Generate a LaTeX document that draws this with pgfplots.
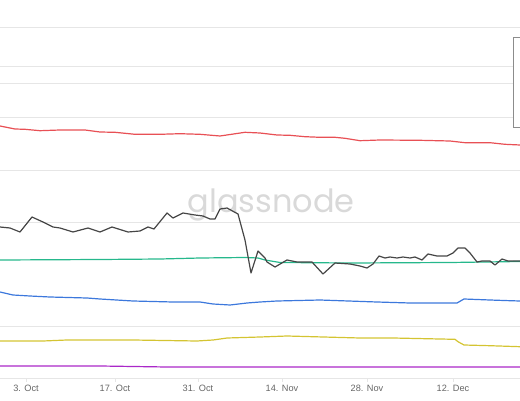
\documentclass[border=0pt]{standalone}
\usepackage{pgfplots}
\pgfplotsset{compat=1.18}
\usepackage{fontspec}
\setmainfont{Liberation Sans}
\newfontfamily\wmfont{Poppins}
\definecolor{cred}{RGB}{232,80,85}
\definecolor{cgreen}{RGB}{38,184,140}
\definecolor{cblue}{RGB}{60,120,220}
\definecolor{cyellow}{RGB}{212,196,50}
\definecolor{cpurple}{RGB}{170,40,200}
\definecolor{cblack}{RGB}{70,70,70}
\definecolor{gridc}{RGB}{230,230,230}
\definecolor{ticklab}{RGB}{102,102,102}
\begin{document}
\begin{tikzpicture}
\begin{axis}[
  at={(0,0)}, anchor=south west,
  scale only axis, width=520pt, height=378pt,
  xmin=0, xmax=520, ymin=0, ymax=378,
  axis line style={draw=none},
  xtick={26,115,198,282,367,453},
  xticklabels={3. Oct,17. Oct,31. Oct,14. Nov,28. Nov,12. Dec},
  x tick label style={font=\fontsize{9.2}{10}\selectfont, text=ticklab, yshift=0pt},
  xtick pos=bottom, tick align=outside,
  major tick length=4pt,
  x tick style={draw=gridc, line width=0.8pt},
  ytick={0,52,156,208,261,312,351},
  yticklabels={},
  y tick style={draw=none},
  ymajorgrids,
  major grid style={draw=gridc, line width=0.8pt},
  extra y ticks={295},
  extra y tick labels={},
  extra y tick style={grid style={draw=black!15, line width=1.5pt}, draw=none},
  every axis plot/.append style={line width=1.2pt, line join=round},
  clip=true,
]
\node[font=\wmfont\fontsize{32}{32}\selectfont, text=black!15] at (axis cs:271,173) {glassnode};
\addplot[cred] coordinates {(0,252)(15,249)(25,248.7)(40,247.3)(60,248)(85,248)(100,246)(115,245.7)(135,243.7)(160,243.7)(180,244.3)(200,243.7)(220,242)(245,245.7)(260,245)(277,243)(290,242.7)(305,241.3)(320,240.7)(335,240.7)(345,239.7)(360,237.3)(380,238)(420,237.7)(450,237)(465,235.3)(490,235.3)(505,233.7)(520,233)};
\addplot[cgreen] coordinates {(0,118)(100,118.5)(160,119)(200,120)(245,120.5)(258,120)(265,118)(280,115.5)(350,115)(450,115.5)(520,116.5)};
\addplot[cblack] coordinates {(0,151)(10,150)(20,146)(32,161)(43,156)(53,151)(60,150)(73,146)(88,150)(100,146)(112,151)(128,146)(140,147)(148,151)(154,149)(167,165)(173,160)(183,165)(195,163)(203,162)(210,159)(215,159)(220,169)(227,170)(238,164)(245,138)(251,105)(258,127)(265,120)(267,116)(275,111)(287,118)(297,116)(312,116)(323,104)(335,115)(350,114)(360,112)(367,110)(373,114)(379,122)(385,120)(390,121)(397,120)(403,121)(410,120)(415,121)(422,118)(428,124)(437,122)(447,122)(453,125)(458,130)(465,130)(470,125)(477,116)(482,117)(490,117)(495,113)(502,119)(508,117)(520,117)};
\addplot[cblue] coordinates {(0,86)(13,83)(30,82)(50,81)(87,80)(100,79)(133,77)(173,76)(200,76)(213,74)(230,73)(247,75)(260,76)(277,77)(320,78)(377,76)(410,75)(433,75)(457,75)(464,79)(490,78)(510,77.3)(520,77)};
\addplot[cyellow] coordinates {(0,37)(43,37)(67,38)(133,38)(197,37)(213,38)(227,40)(260,41)(287,42)(360,40)(393,40)(440,39)(455,38.7)(458,36.3)(464,33)(490,32.3)(520,31.3)};
\addplot[cpurple] coordinates {(0,12)(100,12)(167,11)(260,11)(393,11)(520,11)};
\draw[draw=black!45, line width=0.8pt, fill=white] (axis cs:513,341) rectangle (axis cs:540,251);
\end{axis}
\pgfresetboundingbox
\path[use as bounding box] (0,-22pt) rectangle (520pt,378pt);
\end{tikzpicture}
\end{document}
